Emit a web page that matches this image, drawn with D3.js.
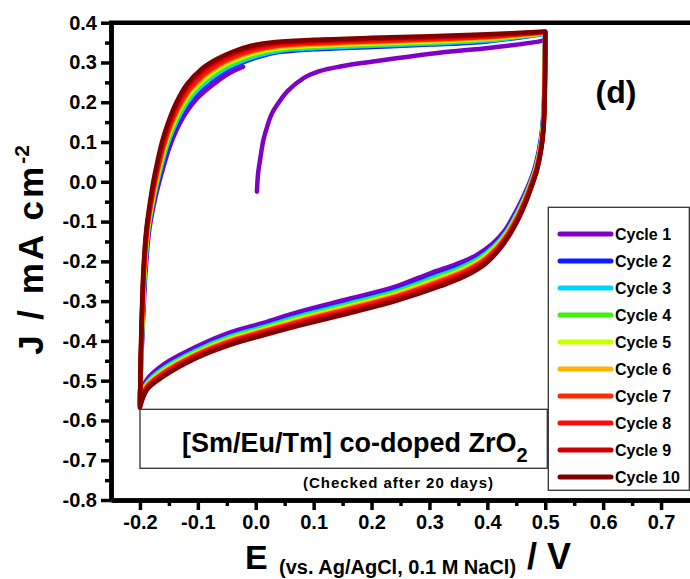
<!DOCTYPE html>
<html>
<head>
<meta charset="utf-8">
<script src="https://cdn.jsdelivr.net/npm/d3@7"></script>
<style>
body { margin: 0; background: #fff; }
svg { display: block; font-family: "Liberation Sans", Arial, sans-serif; font-weight: bold; }
</style>
</head>
<body>
<div id="chart"></div>
<script>
// loops: outer = Cycle 10, inner = Cycle 2 (points paired along the curve)
const topOuter = [[-0.200,-0.568],[-0.199,-0.46],[-0.197,-0.34],[-0.194,-0.22],[-0.189,-0.12],[-0.182,-0.045],
    [-0.177,0.0],[-0.170,0.05],[-0.162,0.10],[-0.151,0.15],[-0.138,0.197],[-0.119,0.245],[-0.095,0.282],
    [-0.068,0.308],[-0.040,0.327],[-0.008,0.342],[0.030,0.351],[0.100,0.357],[0.200,0.362],[0.300,0.366],
    [0.400,0.371],[0.500,0.378]];
const topInner = [[-0.200,-0.545],[-0.198,-0.45],[-0.195,-0.34],[-0.191,-0.22],[-0.185,-0.12],[-0.176,-0.045],
    [-0.169,0.0],[-0.161,0.045],[-0.152,0.09],[-0.140,0.135],[-0.125,0.178],[-0.104,0.220],[-0.077,0.255],
    [-0.052,0.280],[-0.026,0.298],[0.005,0.314],[0.040,0.326],[0.100,0.333],[0.200,0.339],[0.300,0.345],
    [0.400,0.353],[0.500,0.372]];
const bottomOuter = [[0.500,0.378],[0.500,0.30],[0.499,0.20],[0.497,0.13],[0.493,0.08],[0.486,0.03],[0.477,-0.01],
    [0.467,-0.05],[0.455,-0.09],[0.440,-0.13],[0.421,-0.17],[0.396,-0.207],[0.362,-0.237],[0.320,-0.262],
    [0.241,-0.300],[0.160,-0.331],[0.077,-0.361],[0.013,-0.386],[-0.044,-0.410],[-0.102,-0.443],[-0.160,-0.490],
    [-0.188,-0.523],[-0.200,-0.568]];
const bottomInner = [[0.500,0.372],[0.499,0.30],[0.498,0.20],[0.495,0.13],[0.490,0.08],[0.482,0.03],[0.472,-0.01],
    [0.461,-0.047],[0.448,-0.085],[0.432,-0.125],[0.411,-0.16],[0.384,-0.19],[0.350,-0.214],[0.308,-0.236],
    [0.241,-0.272],[0.160,-0.303],[0.077,-0.334],[0.013,-0.362],[-0.044,-0.386],[-0.102,-0.421],[-0.160,-0.467],
    [-0.188,-0.503],[-0.200,-0.545]];
// first sweep of cycle 1, 0 V -> 0.5 V
const firstSweep = [[0.002,-0.025],[0.004,0.02],[0.008,0.06],[0.013,0.104],[0.020,0.140],[0.028,0.172],[0.040,0.200],
    [0.055,0.228],[0.082,0.260],[0.110,0.278],[0.146,0.290],[0.200,0.302],[0.260,0.314],[0.320,0.325],
    [0.406,0.337],[0.490,0.353],[0.500,0.357]];

const cycleNames = ["Cycle 1","Cycle 2","Cycle 3","Cycle 4","Cycle 5","Cycle 6","Cycle 7","Cycle 8","Cycle 9","Cycle 10"];
const cycleColors = ["#8000c8","#0f1eff","#00d4ff","#40f010","#ccff00","#ffb400","#ff2800","#ff0a0a","#cc0000","#800000"];
// where each cycle sits between the inner (0) and outer (1) trace
const cycleSpread = [-0.3, 0, 0.12, 0.25, 0.37, 0.48, 0.6, 0.72, 0.86, 1];

const xTicks = [-0.2,-0.1,0.0,0.1,0.2,0.3,0.4,0.5,0.6,0.7];
const yTicks = [0.4,0.3,0.2,0.1,0.0,-0.1,-0.2,-0.3,-0.4,-0.5,-0.6,-0.7,-0.8];

const w = 690, h = 579;
const svg = d3.select("#chart").append("svg").attr("width", w).attr("height", h);

const x = d3.scaleLinear().domain([-0.25, 0.75]).range([111, 690]);
const y = d3.scaleLinear().domain([-0.8, 0.4]).range([500, 22.7]);
const fmt = d => d.toFixed(1);

function mix(a, b, t) {
    return a.map((p, i) => [p[0] + (b[i][0] - p[0]) * t, p[1] + (b[i][1] - p[1]) * t]);
}

const line = d3.line().x(d => x(d[0])).y(d => y(d[1])).curve(d3.curveCatmullRom.alpha(0.5));

// curves, one path per cycle (top and bottom sweeps as separate pieces so the corners stay sharp)
const curves = svg.append("g");
cycleNames.forEach((name, i) => {
    const s = cycleSpread[i];
    const top = mix(topInner, topOuter, s);
    const bottom = mix(bottomInner, bottomOuter, s);
    let d;
    if (i === 0) {
        const back = [firstSweep[firstSweep.length - 1]].concat(bottom.slice(1));
        d = line(firstSweep) + line(back) + line(top.filter(p => p[0] <= 0.005));
    } else {
        d = line(top) + line(bottom);
    }
    curves.append("path")
        .attr("d", d)
        .attr("fill", "none")
        .attr("stroke", cycleColors[i])
        .attr("stroke-width", 4.5)
        .attr("stroke-linejoin", "round")
        .attr("stroke-linecap", "round");
});

// axes
const minorY = d3.range(-0.75, 0.4, 0.1);
const minorX = d3.range(-0.15, 0.75, 0.1);

svg.append("g").attr("transform", "translate(" + x(-0.25) + ",0)")
    .call(d3.axisLeft(y).tickValues(yTicks).tickSize(10).tickSizeOuter(0).tickPadding(4).tickFormat(fmt));
svg.append("g").attr("transform", "translate(" + x(-0.25) + ",0)")
    .call(d3.axisLeft(y).tickValues(minorY).tickSize(6).tickSizeOuter(0).tickFormat(""));
svg.append("g").attr("transform", "translate(0," + y(-0.8) + ")")
    .call(d3.axisBottom(x).tickValues(xTicks).tickSize(10).tickSizeOuter(0).tickPadding(5).tickFormat(fmt));
svg.append("g").attr("transform", "translate(0," + y(-0.8) + ")")
    .call(d3.axisBottom(x).tickValues(minorX).tickSize(6).tickSizeOuter(0).tickFormat(""));

svg.selectAll(".domain").attr("stroke", "#000").attr("stroke-width", 4.5);
svg.selectAll(".tick line").attr("stroke", "#000").attr("stroke-width", 3.5);
svg.selectAll(".tick text").attr("font-size", 20).attr("font-weight", "bold")
    .attr("font-family", "'Liberation Sans', Arial, sans-serif").attr("fill", "#000");

// top frame
svg.append("line")
    .attr("x1", x(-0.25) - 2).attr("x2", x(0.75))
    .attr("y1", y(0.4)).attr("y2", y(0.4))
    .attr("stroke", "#000").attr("stroke-width", 4.5);

// axis titles
const yt = svg.append("text")
    .attr("transform", "translate(43,250) rotate(-90)")
    .attr("text-anchor", "middle")
    .attr("font-size", 35);
yt.append("tspan").attr("letter-spacing", 3).text("J / mA cm");
yt.append("tspan").attr("font-size", 21).attr("dy", -14).text("-2");

const xt = svg.append("text").attr("x", 245).attr("y", 569).attr("font-size", 34);
xt.append("tspan").text("E");
xt.append("tspan").attr("x", 279).attr("font-size", 20).attr("dy", 5).text("(vs. Ag/AgCl, 0.1 M NaCl)");
xt.append("tspan").attr("x", 527).attr("font-size", 36).attr("dy", -5).text("/ V");

// panel label
svg.append("text").attr("x", 616).attr("y", 103).attr("text-anchor", "middle")
    .attr("font-size", 32).text("(d)");

// sample box
svg.append("rect").attr("x", 140).attr("y", 409.3).attr("width", 407.3).attr("height", 59)
    .attr("fill", "#fff").attr("stroke", "#333").attr("stroke-width", 1.3);
const st = svg.append("text").attr("x", 182).attr("y", 452).attr("font-size", 27)
    .text("[Sm/Eu/Tm] co-doped ZrO");
st.append("tspan").attr("font-size", 20).attr("dy", 10).text("2");

svg.append("text").attr("x", 303).attr("y", 488).attr("font-size", 15)
    .attr("textLength", 190).attr("lengthAdjust", "spacing")
    .text("(Checked after 20 days)");

// legend
const legend = svg.append("g");
legend.append("rect").attr("x", 548.3).attr("y", 207.3).attr("width", 141).attr("height", 283)
    .attr("fill", "#fff").attr("stroke", "#333").attr("stroke-width", 1.3);
const items = legend.selectAll("g.item").data(cycleNames).enter().append("g")
    .attr("class", "item")
    .attr("transform", (d, i) => "translate(0," + (234 + i * 27) + ")");
items.append("line").attr("x1", 560).attr("x2", 611)
    .attr("stroke", (d, i) => cycleColors[i]).attr("stroke-width", 5).attr("stroke-linecap", "round");
items.append("text").attr("x", 615).attr("dy", "0.36em").attr("font-size", 16).text(d => d);
</script>
</body>
</html>
